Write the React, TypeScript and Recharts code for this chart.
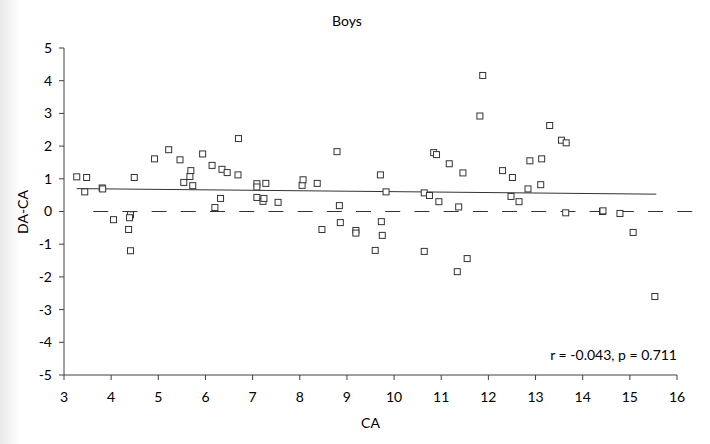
import { ScatterChart, Scatter, XAxis, YAxis, ReferenceLine } from 'recharts';

const ca = [
  3.27, 3.44, 3.48, 3.81, 3.82, 4.05, 4.41, 4.39, 4.37, 4.41, 4.49, 4.92, 5.22, 5.46, 5.54, 5.67,
  5.69, 5.73, 5.94, 6.14, 6.2, 6.32, 6.35, 6.46, 6.69, 6.7, 7.09, 7.09, 7.09, 7.22, 7.24, 7.28,
  7.54, 8.05, 8.07, 8.37, 8.47, 8.79, 8.84, 8.86, 9.19, 9.19, 9.6, 9.71, 9.73, 9.75, 9.83, 10.64,
  10.64, 10.75, 10.84, 10.9, 10.95, 11.17, 11.34, 11.37, 11.46, 11.55, 11.82, 11.88, 12.3, 12.48,
  12.51, 12.65, 12.84, 12.88, 13.11, 13.13, 13.3, 13.55, 13.64, 13.65, 14.42, 14.43, 14.79, 15.07,
  15.53,
];
const daCa = [
  1.06, 0.6, 1.04, 0.72, 0.69, -0.25, -0.1, -0.19, -0.55, -1.2, 1.04, 1.61, 1.89, 1.58, 0.89, 1.07,
  1.25, 0.79, 1.76, 1.41, 0.12, 0.4, 1.29, 1.19, 1.12, 2.23, 0.85, 0.75, 0.43, 0.31, 0.4, 0.86,
  0.28, 0.8, 0.97, 0.86, -0.55, 1.83, 0.18, -0.34, -0.58, -0.66, -1.19, 1.12, -0.31, -0.73, 0.6, 0.57,
  -1.22, 0.49, 1.8, 1.74, 0.3, 1.46, -1.84, 0.14, 1.18, -1.44, 2.92, 4.16, 1.25, 0.46,
  1.04, 0.3, 0.69, 1.55, 0.82, 1.61, 2.63, 2.18, -0.04, 2.1, 0.0, 0.02, -0.06, -0.64,
  -2.6,
];
const trendX = [3.27, 15.56];
const trendY = [0.7, 0.53];
const xTicks = [3, 4, 5, 6, 7, 8, 9, 10, 11, 12, 13, 14, 15, 16];
const yTicks = [-5, -4, -3, -2, -1, 0, 1, 2, 3, 4, 5];

const points = ca.map((x, i) => ({ x, y: daCa[i] }));
const FONT = 'Lato, "Open Sans", sans-serif';
const AXIS = '#404040';

const Square = (p: any) => (
  <rect x={p.cx - 3} y={p.cy - 3} width={6} height={6} fill="#fff" stroke="#333" strokeWidth={1} />
);

const YLabel = () => (
  <text x={22} y={212} transform="rotate(-90 22 212)" textAnchor="middle" dominantBaseline="central"
    fontSize={14} fill="#000" fontFamily={FONT}>DA-CA</text>
);

export default function App() {
  return (
    <div style={{
      position: 'absolute', left: 0, top: 0, width: 710, height: 444,
      background: 'linear-gradient(to right, #e9e9e9 0px, #ffffff 20px)', fontFamily: FONT,
    }}>
      <div style={{ position: 'absolute', left: 0, width: 694, top: 12, textAlign: 'center', fontSize: 14 }}>Boys</div>
      <div style={{ position: 'absolute', right: 33, top: 346, fontSize: 14 }}>r = -0.043, p = 0.711</div>
      <ScatterChart width={710} height={444} margin={{ top: 48, right: 33, left: 0, bottom: 24 }}
        style={{ position: 'absolute', left: 0, top: 0 }}>
        <XAxis type="number" dataKey="x" domain={[3, 16]} ticks={xTicks} allowDataOverflow
          height={45} stroke={AXIS} tickSize={5} tickMargin={12}
          tick={{ fontSize: 14, fill: '#000', fontFamily: FONT }}
          label={{ value: 'CA', position: 'bottom', offset: -2, fontSize: 14, fill: '#000', fontFamily: FONT }} />
        <YAxis type="number" dataKey="y" domain={[-5, 5]} ticks={yTicks} allowDataOverflow
          width={64} stroke={AXIS} tickSize={5} tickMargin={7}
          tick={{ fontSize: 14, fill: '#000', fontFamily: FONT }}
          label={<YLabel />} />
        <ReferenceLine segment={[{ x: 3.62, y: 0 }, { x: 16.34, y: 0 }]} ifOverflow="visible"
          stroke="#333" strokeDasharray="15 14.2" />
        <ReferenceLine segment={[{ x: trendX[0], y: trendY[0] }, { x: trendX[1], y: trendY[1] }]}
          stroke="#333" strokeWidth={1} />
        <Scatter data={points} shape={Square} isAnimationActive={false} />
      </ScatterChart>
    </div>
  );
}
